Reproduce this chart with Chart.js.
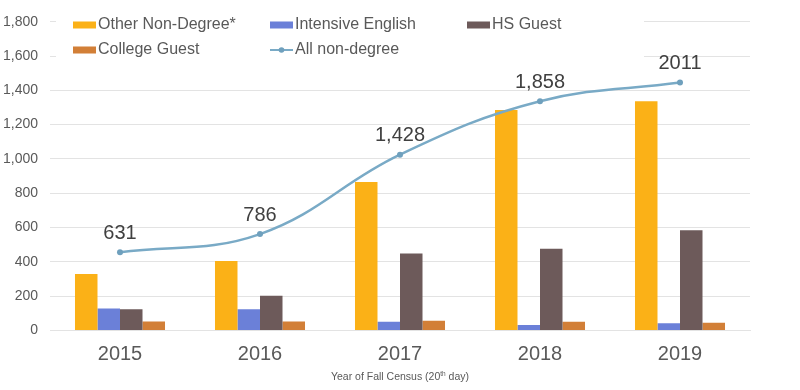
<!DOCTYPE html>
<html>
<head>
<meta charset="utf-8">
<script src="https://cdn.jsdelivr.net/npm/chart.js@4.4.1/dist/chart.umd.min.js"></script>
<style>
  html, body { margin: 0; padding: 0; background: #fff; }
  #wrap { width: 800px; height: 390px; position: relative; }
</style>
</head>
<body>
<div id="wrap"><canvas id="myChart"></canvas></div>
<script>
// values
var years = ["2015", "2016", "2017", "2018", "2019"];
var otherNonDegree   = [330, 405, 865, 1286, 1336];
var intensiveEnglish = [128, 124, 51, 32, 42];
var hsGuest          = [124, 203, 449, 476, 584];
var collegeGuest     = [52, 52, 57, 51, 45];
var allNonDegree     = [456, 562, 1025, 1336, 1445];
var allNonDegreeLabels = ["631", "786", "1,428", "1,858", "2011"];
var yMax = 1800, yStep = 200;

var FONT = "'Liberation Sans', Arial, sans-serif";
var textGray = "#595959";
var gridGray = "#e3e3e3";

var colOther = "#fbb117";
var colEnglish = "#6b80d8";
var colHs = "#6d5a5a";
var colCollege = "#d27f37";
var colLine = "#79aac6";

// legend drawn as a grid over the top of the plot, like the original
var gridLegend = {
  id: "gridLegend",
  afterDraw: function (chart) {
    var ctx = chart.ctx;
    ctx.save();
    ctx.fillStyle = "#fff";
    ctx.fillRect(56, 8, 588, 56);
    var items = [
      {text: "Other Non-Degree*", color: colOther, x: 73, y: 25},
      {text: "Intensive English", color: colEnglish, x: 270, y: 25},
      {text: "HS Guest", color: colHs, x: 467, y: 25},
      {text: "College Guest", color: colCollege, x: 73, y: 50},
      {text: "All non-degree", color: colLine, x: 270, y: 50, line: true}
    ];
    ctx.font = "16px " + FONT;
    ctx.textBaseline = "middle";
    ctx.textAlign = "left";
    items.forEach(function (it) {
      if (it.line) {
        ctx.strokeStyle = it.color;
        ctx.lineWidth = 2;
        ctx.beginPath();
        ctx.moveTo(it.x, it.y);
        ctx.lineTo(it.x + 23, it.y);
        ctx.stroke();
        ctx.fillStyle = "#6fa0bd";
        ctx.beginPath();
        ctx.arc(it.x + 11.5, it.y, 2.8, 0, Math.PI * 2);
        ctx.fill();
      } else {
        ctx.fillStyle = it.color;
        ctx.fillRect(it.x, it.y - 3.5, 23, 7);
      }
      ctx.fillStyle = textGray;
      ctx.fillText(it.text, it.x + 25, it.y);
    });
    ctx.restore();
  }
};

// value labels above the line points
var lineLabels = {
  id: "lineLabels",
  afterDatasetsDraw: function (chart) {
    var meta = chart.getDatasetMeta(4);
    var ctx = chart.ctx;
    ctx.save();
    ctx.font = "20px " + FONT;
    ctx.fillStyle = "#404040";
    ctx.textAlign = "center";
    ctx.textBaseline = "middle";
    meta.data.forEach(function (pt, i) {
      ctx.fillText(allNonDegreeLabels[i], pt.x, pt.y - 19);
    });
    ctx.restore();
  }
};

// x axis title with superscript
var axisTitle = {
  id: "axisTitle",
  afterDraw: function (chart) {
    var ctx = chart.ctx;
    var a = chart.chartArea;
    var p1 = "Year of Fall Census (20", sup = "th", p2 = " day)";
    ctx.save();
    ctx.fillStyle = textGray;
    ctx.textBaseline = "alphabetic";
    ctx.textAlign = "left";
    ctx.font = "10.5px " + FONT;
    var w1 = ctx.measureText(p1).width, w3 = ctx.measureText(p2).width;
    ctx.font = "6.5px " + FONT;
    var w2 = ctx.measureText(sup).width;
    var x = (a.left + a.right) / 2 - (w1 + w2 + w3) / 2;
    var y = 380;
    ctx.font = "10.5px " + FONT;
    ctx.fillText(p1, x, y);
    ctx.font = "6.5px " + FONT;
    ctx.fillText(sup, x + w1, y - 4);
    ctx.font = "10.5px " + FONT;
    ctx.fillText(p2, x + w1 + w2, y);
    ctx.restore();
  }
};

new Chart("myChart", {
  type: "bar",
  data: {
    labels: years,
    datasets: [
      {label: "Other Non-Degree*", data: otherNonDegree, backgroundColor: colOther, order: 1},
      {label: "Intensive English", data: intensiveEnglish, backgroundColor: colEnglish, order: 1},
      {label: "HS Guest", data: hsGuest, backgroundColor: colHs, order: 1},
      {label: "College Guest", data: collegeGuest, backgroundColor: colCollege, order: 1},
      {
        type: "line", label: "All non-degree", data: allNonDegree, order: 0,
        borderColor: colLine, borderWidth: 2.5, tension: 0.4,
        pointRadius: 3, pointBackgroundColor: "#6fa0bd", pointBorderWidth: 0
      }
    ]
  },
  options: {
    responsive: true,
    maintainAspectRatio: false,
    animation: false,
    categoryPercentage: 0.643,
    barPercentage: 1.0,
    layout: {padding: {top: 21.7, right: 50, bottom: 0, left: 0}},
    plugins: {
      legend: {display: false},
      tooltip: {enabled: false},
      title: {display: false}
    },
    scales: {
      x: {
        grid: {display: false, drawTicks: false},
        border: {display: true, color: gridGray, width: 1},
        ticks: {color: textGray, font: {family: FONT, size: 20}, padding: 12},
        afterFit: function (scale) { scale.height = 59.5; }
      },
      y: {
        min: 0, max: yMax,
        grid: {color: gridGray, lineWidth: 1, drawTicks: false},
        border: {display: false},
        ticks: {
          stepSize: yStep, color: textGray, padding: 12,
          font: {family: FONT, size: 14},
          callback: function (v) { return v.toLocaleString("en-US"); }
        },
        afterFit: function (scale) { scale.width = 50; }
      }
    }
  },
  plugins: [gridLegend, lineLabels, axisTitle]
});
</script>
</body>
</html>
